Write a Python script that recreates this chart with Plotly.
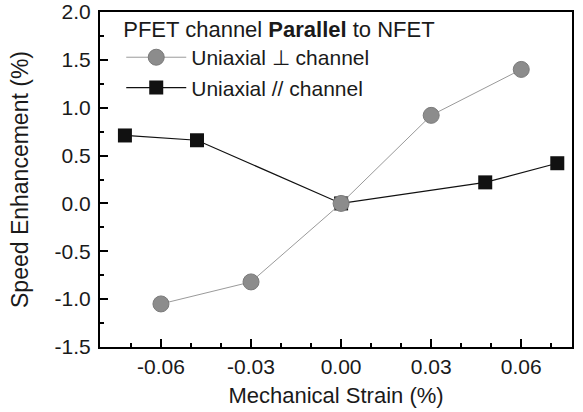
import plotly.graph_objects as go

# Data
perp_x = [-0.06, -0.03, 0.0, 0.03, 0.06]
perp_y = [-1.05, -0.82, 0.0, 0.92, 1.40]
par_x = [-0.072, -0.048, 0.0, 0.048, 0.072]
par_y = [0.71, 0.66, 0.0, 0.22, 0.42]

x_ticks = [-0.06, -0.03, 0.0, 0.03, 0.06]
x_tick_labels = ["-0.06", "-0.03", "0.00", "0.03", "0.06"]
y_ticks = [-1.5, -1.0, -0.5, 0.0, 0.5, 1.0, 1.5, 2.0]
y_tick_labels = ["-1.5", "-1.0", "-0.5", "0.0", "0.5", "1.0", "1.5", "2.0"]

FONT = "Liberation Sans, Arial, sans-serif"
TXT = "#1a1a1a"

fig = go.Figure()
fig.add_trace(go.Scatter(
    x=par_x, y=par_y, mode="lines+markers", name="Uniaxial // channel",
    line=dict(color="#111111", width=1.2),
    marker=dict(symbol="square", size=14, color="#111111"),
    legendrank=2,
))
fig.add_trace(go.Scatter(
    x=perp_x, y=perp_y, mode="lines+markers", name="Uniaxial \u22a5 channel",
    line=dict(color="#9a9a9a", width=1),
    marker=dict(symbol="circle", size=16, color="#8c8c8c", line=dict(color="#7a7a7a", width=1)),
    legendrank=1,
))

axis_common = dict(
    showline=True, linecolor="black", linewidth=2, mirror=True,
    ticks="inside", ticklen=8, tickwidth=2, tickcolor="black",
    showgrid=False, zeroline=False, automargin=False,
    tickfont=dict(family=FONT, size=21, color=TXT),
)

fig.update_xaxes(
    range=[-0.0803, 0.0769], tickvals=x_ticks, ticktext=x_tick_labels,
    minor=dict(dtick=0.01, tick0=0, ticks="inside", ticklen=4, tickwidth=2, tickcolor="black"),
    title=dict(text="Mechanical Strain (%)", font=dict(family=FONT, size=22, color=TXT), standoff=10),
    **axis_common,
)
fig.update_yaxes(
    range=[-1.5, 2.0], tickvals=y_ticks, ticktext=y_tick_labels,
    minor=dict(dtick=0.25, tick0=0, ticks="inside", ticklen=4, tickwidth=2, tickcolor="black"),
    title=dict(text="Speed Enhancement (%)", font=dict(family=FONT, size=23, color=TXT), standoff=20),
    ticklabelstandoff=3,
    **axis_common,
)

fig.update_layout(
    width=583, height=412,
    margin=dict(l=100, r=11, t=12, b=65, autoexpand=False),
    paper_bgcolor="white", plot_bgcolor="white",
    showlegend=True,
    legend=dict(
        x=0.045, y=1.0105, xanchor="left", yanchor="top",
        bgcolor="rgba(0,0,0,0)",
        title=dict(text="PFET channel <b>Parallel</b> to NFET", font=dict(family=FONT, size=22, color=TXT)),
        font=dict(family=FONT, size=21, color=TXT),
        tracegroupgap=0,
        itemwidth=60,
    ),
)

fig.write_html("out.html")
